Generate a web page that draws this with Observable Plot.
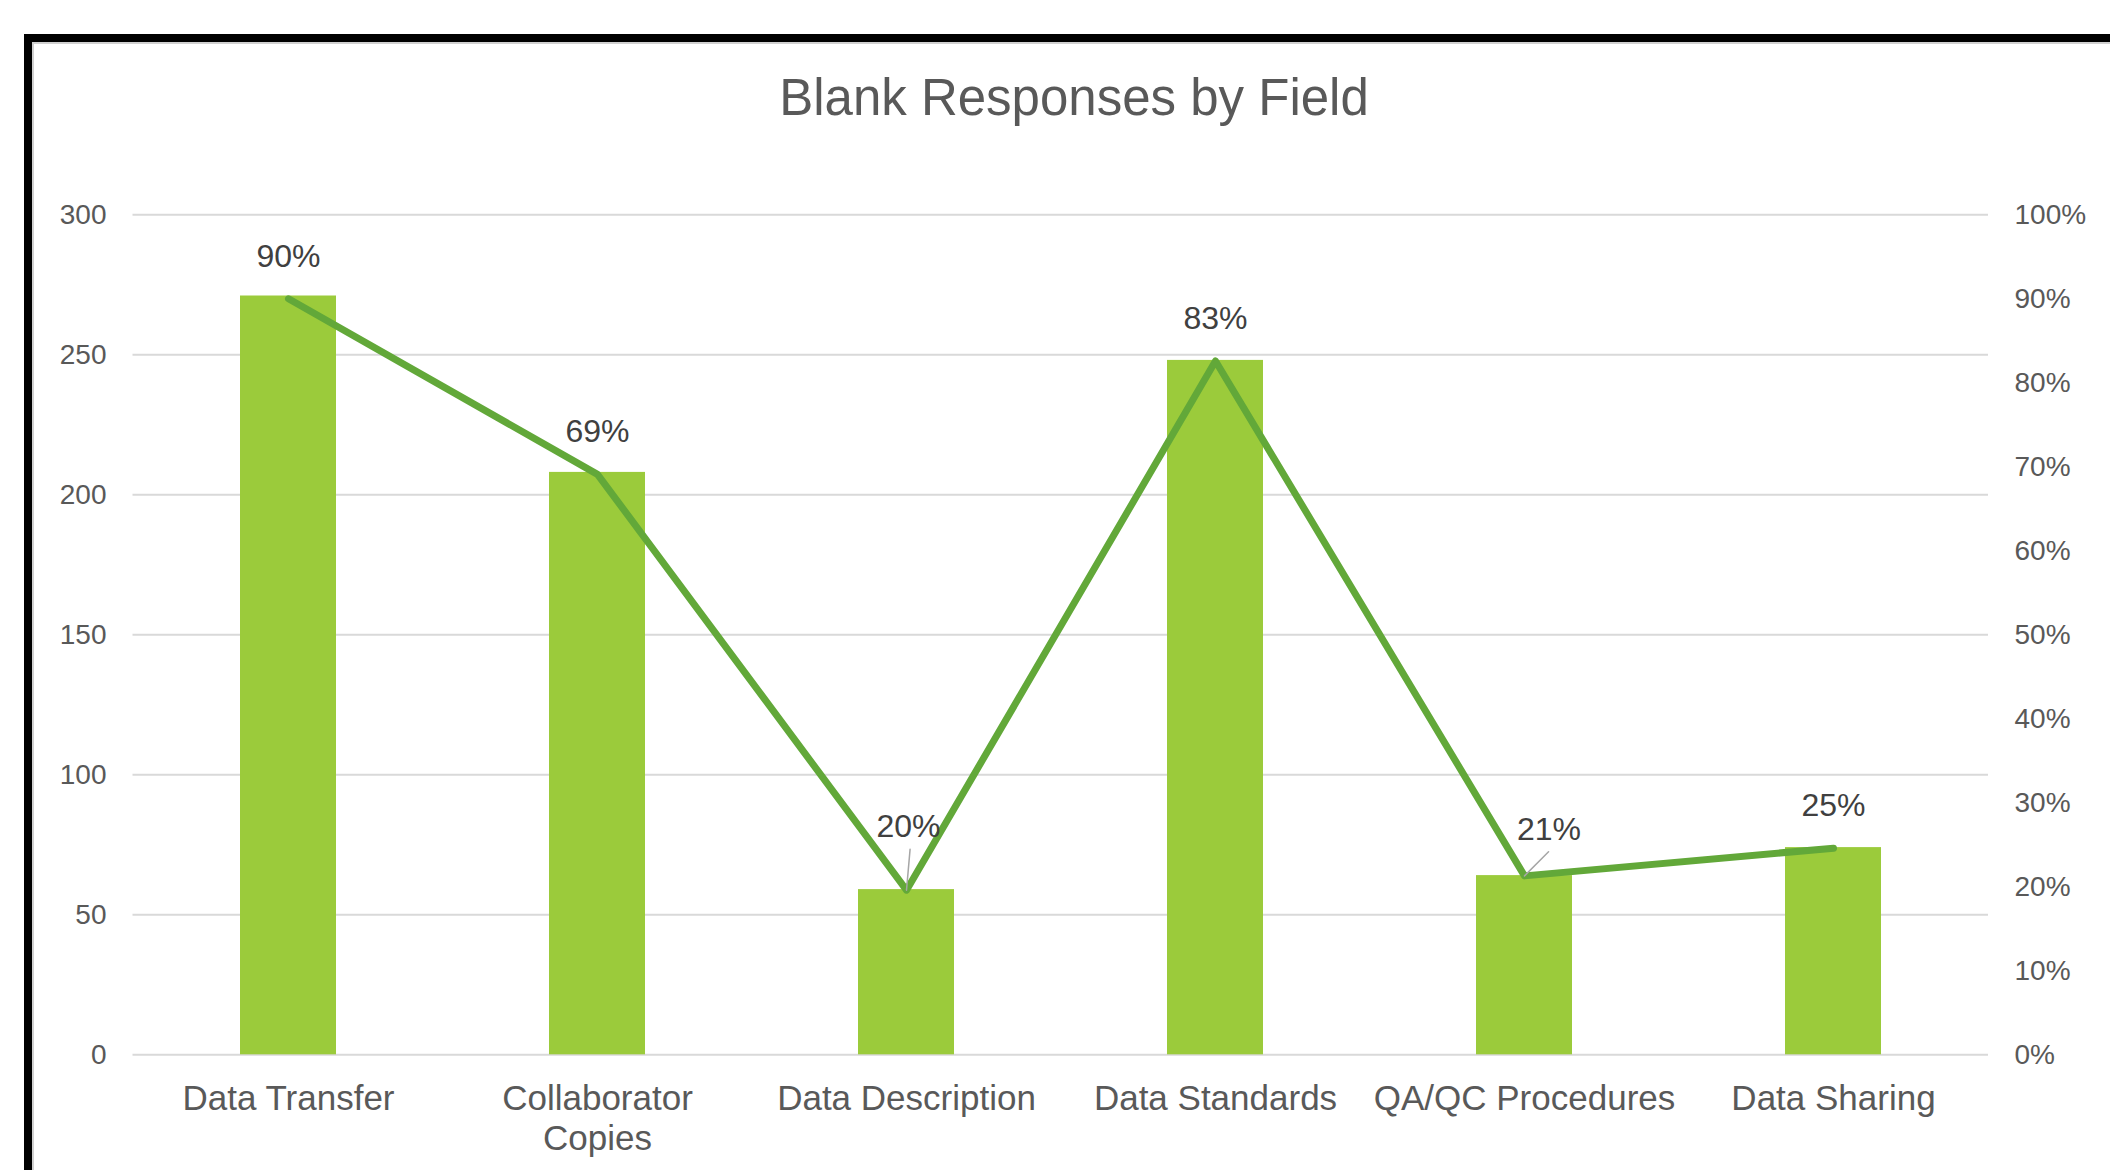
<!DOCTYPE html>
<html>
<head>
<meta charset="utf-8">
<script src="https://cdn.jsdelivr.net/npm/d3@7"></script>
<script src="https://cdn.jsdelivr.net/npm/@observablehq/plot@0.6"></script>
<style>
  html, body { margin: 0; padding: 0; background: #ffffff; }
  #chart { position: relative; width: 2110px; height: 1170px; overflow: hidden; background: #ffffff;
           font-family: "Liberation Sans", Arial, sans-serif; }
  #frame { position: absolute; left: 23.5px; top: 34px; width: 2300px; height: 1300px;
           border-top: 8px solid #000; border-left: 8px solid #000;
           box-shadow: inset 2px 2px 0 #d0d0d0; z-index: 5; pointer-events: none; }
  #title { box-sizing: border-box; width: 2110px; height: 150px; padding-left: 38px; padding-top: 72px;
           text-align: center; font-size: 51px; line-height: 1; color: #595959; white-space: nowrap; }
  #plot svg { display: block; }
</style>
</head>
<body>
<div id="chart">
  <div id="frame"></div>
  <div id="title">Blank Responses by Field</div>
  <div id="plot"></div>
</div>
<script>
// ---- data ----
const categories = ["Data Transfer", "Collaborator Copies", "Data Description", "Data Standards", "QA/QC Procedures", "Data Sharing"];
const categoryLabels = ["Data Transfer", "Collaborator\nCopies", "Data Description", "Data Standards", "QA/QC Procedures", "Data Sharing"];
const blankCounts = [271, 208, 59, 248, 64, 74];
const blankShare = [0.90, 0.691, 0.196, 0.826, 0.213, 0.246];
const leftTicks = [0, 50, 100, 150, 200, 250, 300];
const rightTicks = [0, 0.1, 0.2, 0.3, 0.4, 0.5, 0.6, 0.7, 0.8, 0.9, 1.0];

// ---- build ----
const countMax = 300;            // left axis maximum; right axis 100% aligns with it
const data = categories.map((c, i) => ({field: c, count: blankCounts[i], share: blankShare[i]}));
const pct = d3.format(".0%");
const shareY = d => d.share * countMax;

const barColor = "#9BCB3B";
const lineColor = "#62A839";
const font = "Liberation Sans, Arial, sans-serif";

// labels moved off the line (with leader lines)
const nudged = {
  "Data Description": {dx: 2, dy: -63, len: 41, rot: 5},
  "QA/QC Procedures": {dx: 24.5, dy: -46.5, len: 34, rot: 45}
};
const plainLabels = data.filter(d => !(d.field in nudged));

const marks = [
  Plot.ruleY(leftTicks, {stroke: "#d9d9d9", strokeWidth: 2}),
  Plot.barY(data, {x: "field", y: "count", fill: barColor}),
  Plot.line(data, {x: "field", y: shareY, stroke: lineColor, strokeWidth: 7,
                   strokeLinecap: "round", strokeLinejoin: "round"}),
  Plot.text(plainLabels, {x: "field", y: shareY, text: d => pct(d.share), dy: -42.5,
                          fontSize: 32, fill: "#404040"}),
  Plot.axisY(leftTicks, {anchor: "left", label: null, tickSize: 0, tickPadding: 26.5, fontSize: 28, fill: "#595959"}),
  Plot.axisY(rightTicks.map(t => t * countMax), {anchor: "right", label: null, tickSize: 0, tickPadding: 26, fontSize: 28,
             fill: "#595959", textAnchor: "start", tickFormat: v => pct(v / countMax)}),
  Plot.axisX({label: null, tickSize: 0, tickPadding: 27, fontSize: 35, fill: "#595959", lineHeight: 1.14,
              tickFormat: d => categoryLabels[categories.indexOf(d)]})
];

for (const d of data.filter(d => d.field in nudged)) {
  const n = nudged[d.field];
  marks.push(Plot.vector([d], {x: "field", y: shareY, length: n.len, rotate: n.rot, anchor: "start",
                               r: 0, stroke: "#a6a6a6", strokeWidth: 1.5}));
  marks.push(Plot.text([d], {x: "field", y: shareY, text: d => pct(d.share), dx: n.dx, dy: n.dy,
                             fontSize: 32, fill: "#404040"}));
}

const chart = Plot.plot({
  width: 2110,
  height: 1020,
  marginTop: 64.3,
  marginBottom: 115.7,
  marginLeft: 132.5,
  marginRight: 122,
  style: {fontFamily: font, background: "transparent", overflow: "visible"},
  x: {domain: categories, paddingInner: 0.688, paddingOuter: 0.344, axis: null},
  y: {domain: [0, countMax], axis: null},
  marks
});
document.getElementById("plot").appendChild(chart);
</script>
</body>
</html>
